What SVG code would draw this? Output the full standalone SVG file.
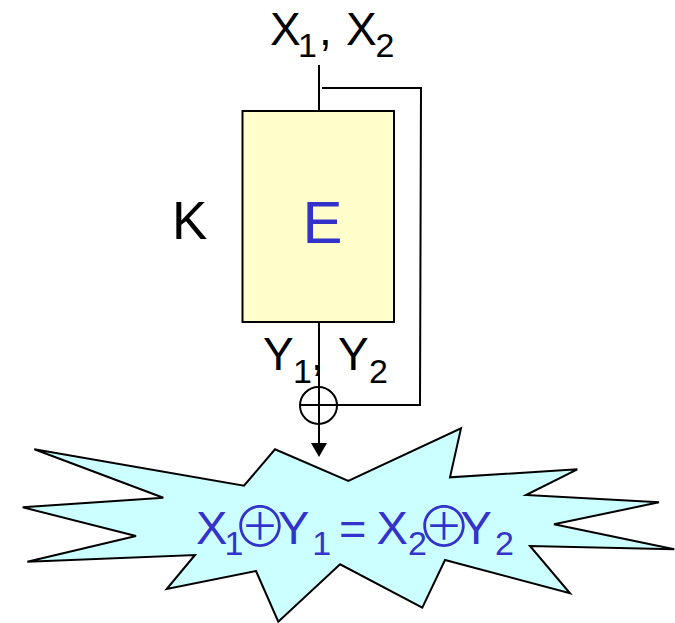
<svg xmlns="http://www.w3.org/2000/svg" width="675" height="623" viewBox="0 0 675 623">
<defs>
<style>
.t{font-family:"Liberation Sans",Arial,sans-serif;fill:#000}
.b{fill:#3333CC}
.m{font-size:46px}
.fm{font-size:47px}
.s{font-size:34px}
.ln{stroke:#000;stroke-width:2;fill:none}
.op{font-family:"Noto Sans CJK JP","DejaVu Sans",sans-serif;font-size:56px;font-weight:300;text-anchor:middle}
</style>
</defs>
<rect width="675" height="623" fill="#fff"/>
<g id="connectors">
<line class="ln" x1="319" y1="65" x2="319" y2="111"/>
<polyline class="ln" points="322,88 421,88 420,405 300,405"/>
<line class="ln" x1="319" y1="322" x2="319" y2="444"/>
<polygon points="311,443 327,443 319,457" fill="#000"/>
</g>
<g id="node-E">
<rect x="242.5" y="111" width="151.5" height="211" fill="#FFFFCC" stroke="#000" stroke-width="2"/>
<text class="t b" x="302.5" y="243" font-size="60">E</text>
</g>
<g id="label-K">
<text class="t" x="172" y="239" font-size="53">K</text>
</g>
<g id="label-X">
<text class="t m" x="270" y="45">X</text>
<text class="t s" x="298" y="57">1</text>
<text class="t m" x="319" y="45">,</text>
<text class="t m" x="346" y="45">X</text>
<text class="t s" x="375.5" y="57">2</text>
</g>
<g id="label-Y">
<text class="t m" x="263" y="370">Y</text>
<text class="t s" x="293" y="382.5">1</text>
<text class="t m" x="311" y="370">,</text>
<text class="t m" x="338" y="370">Y</text>
<text class="t s" x="369" y="382.5">2</text>
</g>
<g id="node-xor">
<circle cx="318.5" cy="405.5" r="18.5" fill="none" stroke="#000" stroke-width="2"/>
</g>
<g id="node-result">
<polygon points="34.3,449.3 244,485.7 275,449.3 348.3,481 461,428.3 450,477.3 577.3,469.3 526,495 659,502.3 554,524.3 674.3,549.3 530,546 570,593.3 445,560 422.3,607.7 340.1,564.3 278.3,621.7 256,571 166.7,589 195,555 27.3,561.7 136,536 22.7,507.3 163.3,497.7" fill="#CCFFFF" stroke="#000" stroke-width="2" stroke-linejoin="miter"/>
<text class="t b fm" x="196" y="543.5">X</text>
<text class="t b s" x="224.6" y="555">1</text>
<text class="op b" x="260" y="546.5">⊕</text>
<text class="t b fm" x="278" y="543.5">Y</text>
<text class="t b s" x="312.3" y="555">1</text>
<text class="t b fm" x="339" y="545">=</text>
<text class="t b fm" x="376.5" y="543.5">X</text>
<text class="t b s" x="408" y="555">2</text>
<text class="op b" x="444" y="546.5">⊕</text>
<text class="t b fm" x="460.5" y="543.5">Y</text>
<text class="t b s" x="495" y="555">2</text>
</g>
</svg>
